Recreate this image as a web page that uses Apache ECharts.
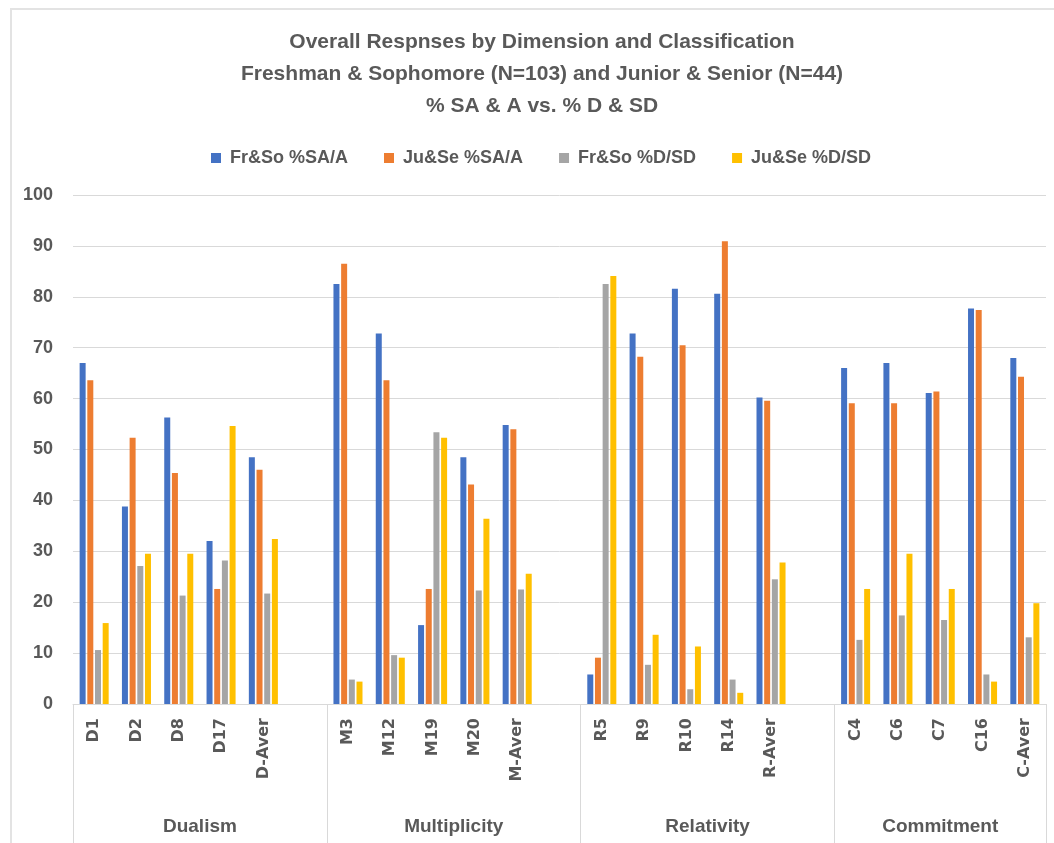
<!DOCTYPE html>
<html>
<head>
<meta charset="utf-8">
<script src="https://cdn.jsdelivr.net/npm/echarts@6/dist/echarts.min.js"></script>
<style>
  html, body { margin: 0; padding: 0; background: #fff; }
  #frame { position: absolute; left: 10px; top: 8px; width: 1100px; height: 900px; border: 2px solid #e3e3e3; box-sizing: border-box; }
  #chart { position: absolute; left: 0; top: 0; width: 1054px; height: 843px; }
</style>
</head>
<body>
<div id="frame"></div>
<div id="chart"></div>
<script>
// ---- data ----
const categories = ['D1','D2','D8','D17','D-Aver','',
                    'M3','M12','M19','M20','M-Aver','',
                    'R5','R9','R10','R14','R-Aver','',
                    'C4','C6','C7','C16','C-Aver'];
const groupNames = ['Dualism','Multiplicity','Relativity','Commitment'];
const groupCenters = [3, 9, 15, 20.5];
const groupBounds = [0, 6, 12, 18, 23];
const seriesNames = ['Fr&So %SA/A','Ju&Se %SA/A','Fr&So %D/SD','Ju&Se %D/SD'];
const frsoSA = [67.0,38.8,56.3,32.0,48.5,null, 82.5,72.8,15.5,48.5,54.8,null, 5.8,72.8,81.6,80.6,60.2,null, 66.0,67.0,61.1,77.7,68.0];
const juseSA = [63.6,52.3,45.4,22.6,46.0,null, 86.5,63.6,22.6,43.1,54.0,null, 9.1,68.2,70.5,90.9,59.6,null, 59.1,59.1,61.4,77.4,64.3];
const frsoD  = [10.6,27.1,21.3,28.2,21.7,null, 4.8,9.6,53.4,22.3,22.5,null, 82.5,7.7,2.9,4.8,24.5,null, 12.6,17.4,16.5,5.8,13.1];
const juseD  = [15.9,29.5,29.5,54.6,32.4,null, 4.4,9.1,52.3,36.4,25.6,null, 84.1,13.6,11.3,2.2,27.8,null, 22.6,29.5,22.6,4.4,19.8];
const yTicks = {min: 0, max: 100, interval: 10};
const titleLines = ['Overall Respnses by Dimension and Classification',
                    'Freshman & Sophomore (N=103) and Junior & Senior (N=44)',
                    '% SA & A vs. % D & SD'];
// ---- chart ----
const colors = ['#4472C4','#ED7D31','#A5A5A5','#FFC000'];
const txt = '#595959';
const narrow = "'Liberation Sans Narrow', 'Liberation Sans', sans-serif";
const chart = echarts.init(document.getElementById('chart'), null, {renderer: 'canvas'});
const allData = [frsoSA, juseSA, frsoD, juseD];
chart.setOption({
  animation: false,
  color: colors,
  title: {
    text: titleLines.join('\n'),
    left: 537, top: 21, textAlign: 'center',
    textStyle: {fontFamily: narrow, fontWeight: 'bold', fontSize: 21, color: txt, lineHeight: 32}
  },
  legend: {
    data: seriesNames,
    left: 206, top: 144,
    itemWidth: 10, itemHeight: 10, itemGap: 36,
    icon: 'rect',
    textStyle: {fontFamily: narrow, fontWeight: 'bold', fontSize: 18, color: txt, padding: [0,0,0,4]}
  },
  grid: {left: 73, right: 8, top: 195, bottom: 139, containLabel: false},
  xAxis: [{
    type: 'category', data: categories,
    axisLine: {show: true, lineStyle: {color: '#d9d9d9', width: 1}},
    axisTick: {show: false},
    axisLabel: {rotate: 90, margin: 14, interval: 0, fontFamily: "'DejaVu Sans', sans-serif", fontWeight: 'bold', fontSize: 16, color: txt}
  }, {
    type: 'value', position: 'bottom', min: 0, max: categories.length,
    axisLine: {show: false},
    splitLine: {show: false},
    axisTick: {show: true, customValues: groupBounds, length: 140, lineStyle: {color: '#d9d9d9', width: 1}},
    axisLabel: {
      customValues: groupCenters, margin: 113,
      formatter: function (v) { const i = groupCenters.indexOf(v); return i >= 0 ? groupNames[i] : ''; },
      fontFamily: narrow, fontWeight: 'bold', fontSize: 19, color: txt
    }
  }],
  yAxis: {
    type: 'value', min: yTicks.min, max: yTicks.max, interval: yTicks.interval,
    axisLine: {show: false}, axisTick: {show: false},
    splitLine: {lineStyle: {color: '#d9d9d9', width: 1}},
    axisLabel: {margin: 20, fontFamily: "'Liberation Sans', sans-serif", fontWeight: 'bold', fontSize: 18, color: txt}
  },
  series: seriesNames.map((n, i) => ({
    name: n, type: 'bar', data: allData[i], xAxisIndex: 0,
    barWidth: 6, barGap: '28%',
    itemStyle: {color: colors[i]}
  }))
});
</script>
</body>
</html>
